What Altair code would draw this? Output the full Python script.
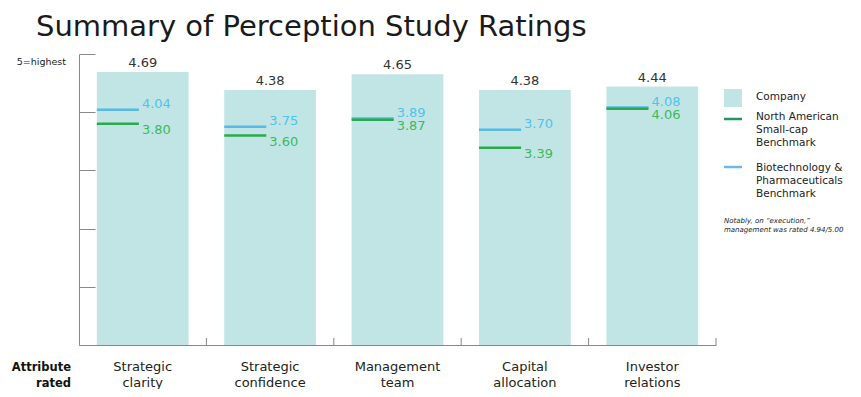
import altair as alt
import pandas as pd

# ---- data ----
categories = ["Strategic clarity", "Strategic confidence", "Management team",
              "Capital allocation", "Investor relations"]
company = [4.69, 4.38, 4.65, 4.38, 4.44]
na_smallcap = [3.80, 3.60, 3.87, 3.39, 4.06]
biotech = [4.04, 3.75, 3.89, 3.70, 4.08]

df = pd.DataFrame({"cat": categories, "company": company,
                   "na": na_smallcap, "bio": biotech})
one = pd.DataFrame({"k": [0]})

FONT = "DejaVu Sans"
W, H = 637, 291
BAR = "#c1e5e5"
BLUE_LINE = "#55b9e9"
GREEN_LINE = "#2aaa4a"
BLUE_TXT = "#4fc3ea"
GREEN_TXT = "#3cb95a"
AXIS = "#888888"

xs = alt.Scale(domain=categories, paddingInner=0, paddingOuter=0)
ys = alt.Scale(domain=[0, 5], nice=False, zero=True)

base = alt.Chart(df)

bars = base.mark_bar(color=BAR, width=alt.RelativeBandSize(0.72)).encode(
    x=alt.X("cat:N", scale=xs, sort=categories, title=None,
            axis=alt.Axis(ticks=False, domain=True, domainColor=AXIS,
                          labelExpr="split(datum.label, ' ')", labelAngle=0,
                          labelFontSize=13, labelLineHeight=16, labelPadding=15,
                          labelColor="#222222", labelFont=FONT)),
    y=alt.Y("company:Q", scale=ys, title=None,
            axis=alt.Axis(orient="right", offset=-W, labels=False, ticks=True,
                          tickSize=16, tickColor=AXIS, domain=True,
                          domainColor=AXIS, grid=False,
                          values=[0, 1, 2, 3, 4, 5])),
)

bar_lbl = base.mark_text(baseline="alphabetic", dy=-5, fontSize=13,
                         font=FONT, color="#333333").encode(
    x=alt.X("cat:N", scale=xs, sort=categories),
    y=alt.Y("company:Q", scale=ys),
    text=alt.Text("company:Q", format=".2f"),
)

def bench(field, line_color, txt_color, dy):
    rule = base.mark_rule(color=line_color, strokeWidth=2.5).encode(
        x=alt.X("cat:N", scale=xs, sort=categories, bandPosition=0.14),
        x2=alt.X2("cat:N", bandPosition=0.47),
        y=alt.Y(f"{field}:Q", scale=ys),
    )
    txt = base.mark_text(align="left", baseline="middle", dx=3, dy=dy,
                         fontSize=13, font=FONT, color=txt_color).encode(
        x=alt.X("cat:N", scale=xs, sort=categories, bandPosition=0.47),
        y=alt.Y(f"{field}:Q", scale=ys),
        text=alt.Text(f"{field}:Q", format=".2f"),
    )
    return rule + txt

seps = base.mark_rule(color=AXIS, strokeWidth=1).encode(
    x=alt.X("cat:N", scale=xs, sort=categories, bandPosition=1),
    y=alt.value(H), y2=alt.value(H - 7),
)

ann = alt.Chart(one)

def label(text, x, y, size, align="left", weight="normal", style="normal",
          lh=None, color="#222222"):
    kw = dict(align=align, baseline="alphabetic", fontSize=size, font=FONT,
              fontWeight=weight, fontStyle=style, color=color, lineBreak="\n")
    if lh is not None:
        kw["lineHeight"] = lh
    return ann.mark_text(**kw).encode(x=alt.value(x), y=alt.value(y),
                                       text=alt.value(text))

title = label("Summary of Perception Study Ratings", -43, -18, 29,
              color="#1a1a1a")
top_lbl = label("5=highest", -13, 10.5, 9.5, align="right")
attr_lbl = label("Attribute\nrated", -8, 316.5, 11.5, align="right",
                 weight="bold", lh=16, color="#111111")

sw = ann.mark_rect(color=BAR).encode(x=alt.value(645), x2=alt.value(663),
                                      y=alt.value(35), y2=alt.value(53))
lg_green = ann.mark_rule(color="#2a9160", strokeWidth=2.5).encode(
    x=alt.value(645), x2=alt.value(663), y=alt.value(65))
lg_blue = ann.mark_rule(color="#6bb8f0", strokeWidth=2.5).encode(
    x=alt.value(645), x2=alt.value(663), y=alt.value(113))
t_comp = label("Company", 677, 45.5, 10.5)
t_na = label("North American\nSmall-cap\nBenchmark", 677, 66, 10.5, lh=13)
t_bio = label("Biotechnology &\nPharmaceuticals\nBenchmark", 677, 116.5, 10.5, lh=13)
note = label("Notably, on \u201cexecution,\u201d\nmanagement was rated 4.94/5.00",
             645, 169, 7, style="italic", lh=9)

chart = alt.layer(
    bars, bar_lbl,
    bench("bio", BLUE_LINE, BLUE_TXT, -6),
    bench("na", GREEN_LINE, GREEN_TXT, 6.5),
    seps, title, top_lbl, attr_lbl, sw, lg_green, lg_blue,
    t_comp, t_na, t_bio, note,
).properties(
    width=W, height=H,
    autosize=alt.AutoSizeParams(type="none"),
    padding={"left": 71, "top": 46, "right": 137, "bottom": 44},
    background="white",
).configure_view(stroke=None)

chart.save("out.html", embed_options={"renderer": "svg", "actions": False})
